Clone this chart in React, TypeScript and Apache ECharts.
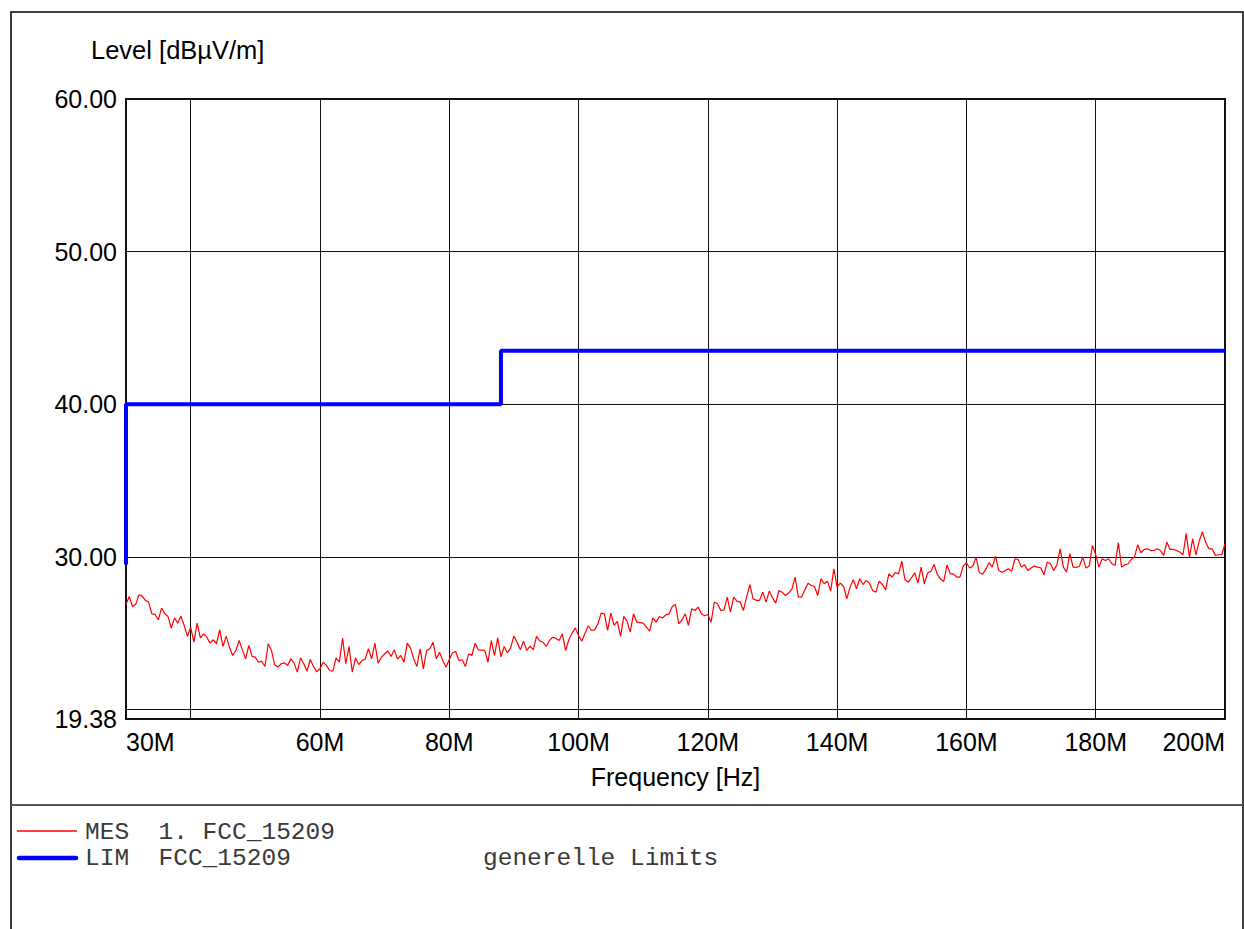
import React, { useEffect, useRef } from "react";
import * as echarts from "echarts";

// ---------- data ----------
// Measurement sweep: 30 MHz .. 200 MHz, one reading every 0.5 MHz (level in dBµV/m)
const FREQ_START_MHZ = 30;
const FREQ_STEP_MHZ = 0.5;
const MES_LEVELS = [
  26.89, 27.4, 26.75, 26.89, 27.52, 27.43, 27.15, 27.04, 26.27, 26.23,
  25.88, 26.65, 26.27, 26.1, 25.33, 26.01, 25.66, 26.12, 25.51, 24.79,
  25.4, 24.42, 25.66, 24.7, 24.96, 24.74, 24.35, 24.57, 24.31, 25.22,
  24.13, 24.81, 24.09, 23.54, 23.87, 24.53, 23.91, 23.32, 24.2, 23.48,
  23.43, 23.1, 23.15, 22.82, 24.31, 23.87, 22.93, 22.78, 23.0, 23.06,
  22.89, 23.32, 23.04, 22.45, 23.39, 23.0, 22.51, 23.28, 22.82, 22.47,
  22.67, 23.1, 22.89, 22.56, 22.51, 23.39, 23.1, 24.68, 23.0, 24.13,
  22.45, 23.39, 22.95, 23.21, 23.3, 23.98, 23.32, 24.35, 23.04, 23.43,
  23.65, 23.83, 23.48, 23.91, 23.3, 23.54, 23.1, 24.35, 24.04, 23.32,
  22.82, 23.98, 22.67, 23.87, 23.98, 24.41, 23.32, 23.76, 23.21, 22.78,
  23.26, 23.72, 23.8, 23.21, 23.26, 22.82, 23.65, 23.54, 24.35, 23.91,
  23.89, 23.87, 23.1, 24.52, 23.54, 24.7, 23.45, 24.13, 23.72, 24.04,
  24.81, 24.41, 23.91, 24.48, 23.87, 24.15, 23.91, 24.79, 24.5, 24.41,
  24.13, 24.52, 24.74, 24.66, 24.52, 24.96, 23.87, 24.57, 25.0, 25.35,
  24.85, 24.48, 25.0, 25.49, 25.18, 25.22, 25.62, 26.32, 26.27, 25.18,
  26.32, 25.51, 25.77, 24.79, 26.1, 25.79, 25.07, 26.27, 25.73, 25.7,
  25.66, 25.4, 25.14, 26.01, 25.73, 26.1, 26.0, 26.2, 26.27, 26.75,
  26.88, 25.62, 25.88, 26.27, 25.51, 26.6, 26.49, 26.71, 26.27, 26.14,
  26.23, 25.72, 27.04, 26.93, 26.49, 26.53, 27.36, 26.38, 27.36, 27.1,
  27.04, 26.49, 27.36, 28.19, 27.26, 27.15, 27.15, 27.69, 27.04, 27.76,
  27.32, 26.97, 27.8, 27.69, 27.47, 27.63, 27.89, 28.68, 27.36, 27.36,
  27.84, 28.28, 28.13, 28.06, 27.47, 28.57, 28.24, 28.41, 27.76, 29.22,
  28.02, 28.28, 28.06, 27.26, 28.02, 28.5, 27.91, 28.57, 28.19, 28.46,
  28.28, 27.8, 27.69, 28.41, 28.19, 27.84, 28.89, 28.68, 28.98, 28.89,
  29.73, 28.5, 28.35, 28.63, 28.96, 28.28, 29.33, 28.24, 28.94, 29.05,
  29.5, 28.85, 28.55, 28.39, 29.48, 28.89, 28.89, 28.68, 28.68, 29.4,
  29.62, 29.27, 29.4, 29.99, 28.96, 28.87, 29.18, 29.62, 29.33, 30.05,
  29.11, 29.0, 29.11, 29.22, 29.05, 29.88, 29.83, 29.33, 29.48, 29.11,
  29.27, 29.4, 29.33, 29.29, 28.83, 29.66, 29.55, 29.11, 29.48, 30.53,
  29.33, 29.0, 30.21, 29.33, 29.31, 29.4, 29.99, 29.27, 29.4, 30.75,
  30.14, 29.33, 29.88, 29.77, 29.88, 29.55, 29.44, 30.93, 29.33, 29.48,
  29.55, 29.83, 29.99, 30.8, 30.27, 30.49, 30.53, 30.42, 30.42, 30.53,
  30.42, 30.1, 30.97, 30.49, 30.49, 30.42, 30.32, 30.14, 31.52, 29.99,
  31.19, 30.14, 31.02, 31.63, 30.97, 30.53, 30.53, 30.1, 30.14, 30.14,
  30.86,
];

// Limit line (FCC 15.209)
const LIM_FREQS = [30, 30, 88, 88, 200];
const LIM_LEVELS = [29.5, 40, 40, 43.5, 43.5];

// Axes
const X_MIN = 30;
const X_MAX = 200;
const X_STEP = 20;
const X_HIDDEN_LABELS = [40];
const Y_MIN = 19.38;
const Y_MAX = 60;
const Y_STEP = 10;
const Y_HIDDEN_LABELS = [20];

// Texts
const Y_TITLE = "Level [dBµV/m]";
const X_TITLE = "Frequency [Hz]";
const MES_NAME = "MES  1. FCC_15209";
const LIM_NAME = "LIM  FCC_15209";
const LIM_NOTE = "generelle Limits";

const SANS = "'Liberation Sans', Arial, Helvetica, sans-serif";
const MONO = "'Liberation Mono', 'Courier New', monospace";

export default function App() {
  const ref = useRef<HTMLDivElement>(null);

  useEffect(() => {
    if (!ref.current) return;
    const chart = echarts.init(ref.current, undefined, { renderer: "svg" });

    const mesData = MES_LEVELS.map((v, i) => [FREQ_START_MHZ + i * FREQ_STEP_MHZ, v]);
    const limData = LIM_FREQS.map((f, i) => [f, LIM_LEVELS[i]]);

    const labelStyle = { fontFamily: SANS, fontSize: 25, color: "#000" };

    chart.setOption({
      animation: false,
      backgroundColor: "#ffffff",
      title: {
        text: Y_TITLE,
        left: 91,
        top: 37,
        padding: 0,
        textStyle: { ...labelStyle, fontSize: 25.5, fontWeight: "normal" },
      },
      grid: {
        left: 126,
        top: 99,
        width: 1099,
        height: 620,
        show: true,
        borderColor: "#111",
        borderWidth: 2,
        backgroundColor: "transparent",
      },
      xAxis: {
        type: "value",
        min: X_MIN,
        max: X_MAX,
        minInterval: X_STEP,
        maxInterval: X_STEP,
        axisLine: { show: false },
        axisTick: { show: false },
        splitLine: { show: true, lineStyle: { color: "#111", width: 1 } },
        axisLabel: {
          ...labelStyle,
          margin: 10,
          showMinLabel: true,
          showMaxLabel: true,
          alignMinLabel: "left",
          alignMaxLabel: "right",
          formatter: (v: number) => (X_HIDDEN_LABELS.includes(v) ? "" : `${v}M`),
        },
        name: X_TITLE,
        nameLocation: "middle",
        nameGap: 45,
        nameTextStyle: labelStyle,
      },
      yAxis: {
        type: "value",
        min: Y_MIN,
        max: Y_MAX,
        minInterval: Y_STEP,
        maxInterval: Y_STEP,
        axisLine: { show: false },
        axisTick: { show: false },
        splitLine: { show: true, lineStyle: { color: "#111", width: 1 } },
        axisLabel: {
          ...labelStyle,
          margin: 9,
          showMinLabel: true,
          showMaxLabel: true,
          formatter: (v: number) =>
            Y_HIDDEN_LABELS.some((h) => Math.abs(h - v) < 1e-6) ? "" : v.toFixed(2),
        },
      },
      series: [
        {
          type: "line",
          name: MES_NAME,
          data: mesData,
          symbol: "none",
          showSymbol: false,
          lineStyle: { color: "#ff0000", width: 1.2 },
          z: 3,
        },
        {
          type: "line",
          name: LIM_NAME,
          data: limData,
          symbol: "none",
          showSymbol: false,
          clip: false,
          lineStyle: { color: "#0000ff", width: 4 },
          z: 4,
        },
      ],
      graphic: [
        {
          type: "rect",
          shape: { x: 11, y: 12, width: 1232, height: 940 },
          style: { fill: "none", stroke: "#000", lineWidth: 1.5 },
          silent: true,
        },
        {
          type: "line",
          shape: { x1: 11, y1: 805, x2: 1243, y2: 805 },
          style: { stroke: "#555", lineWidth: 2 },
          silent: true,
        },
        {
          type: "line",
          shape: { x1: 17, y1: 831, x2: 77, y2: 831 },
          style: { stroke: "#ff0000", lineWidth: 1.5 },
          silent: true,
        },
        {
          type: "line",
          shape: { x1: 19, y1: 858, x2: 76, y2: 858 },
          style: { stroke: "#0000ff", lineWidth: 4.5, lineCap: "round" },
          silent: true,
        },
        {
          type: "text",
          x: 85,
          y: 832,
          style: {
            text: MES_NAME,
            fill: "#3a3a3a",
            font: `24.5px ${MONO}`,
            verticalAlign: "middle",
          },
          silent: true,
        },
        {
          type: "text",
          x: 85,
          y: 858,
          style: {
            text: LIM_NAME,
            fill: "#3a3a3a",
            font: `24.5px ${MONO}`,
            verticalAlign: "middle",
          },
          silent: true,
        },
        {
          type: "text",
          x: 483,
          y: 858,
          style: {
            text: LIM_NOTE,
            fill: "#3a3a3a",
            font: `24.5px ${MONO}`,
            verticalAlign: "middle",
          },
          silent: true,
        },
      ],
    });

    return () => chart.dispose();
  }, []);

  return (
    <div
      ref={ref}
      style={{ position: "absolute", left: 0, top: 0, width: 1244, height: 929 }}
    />
  );
}
